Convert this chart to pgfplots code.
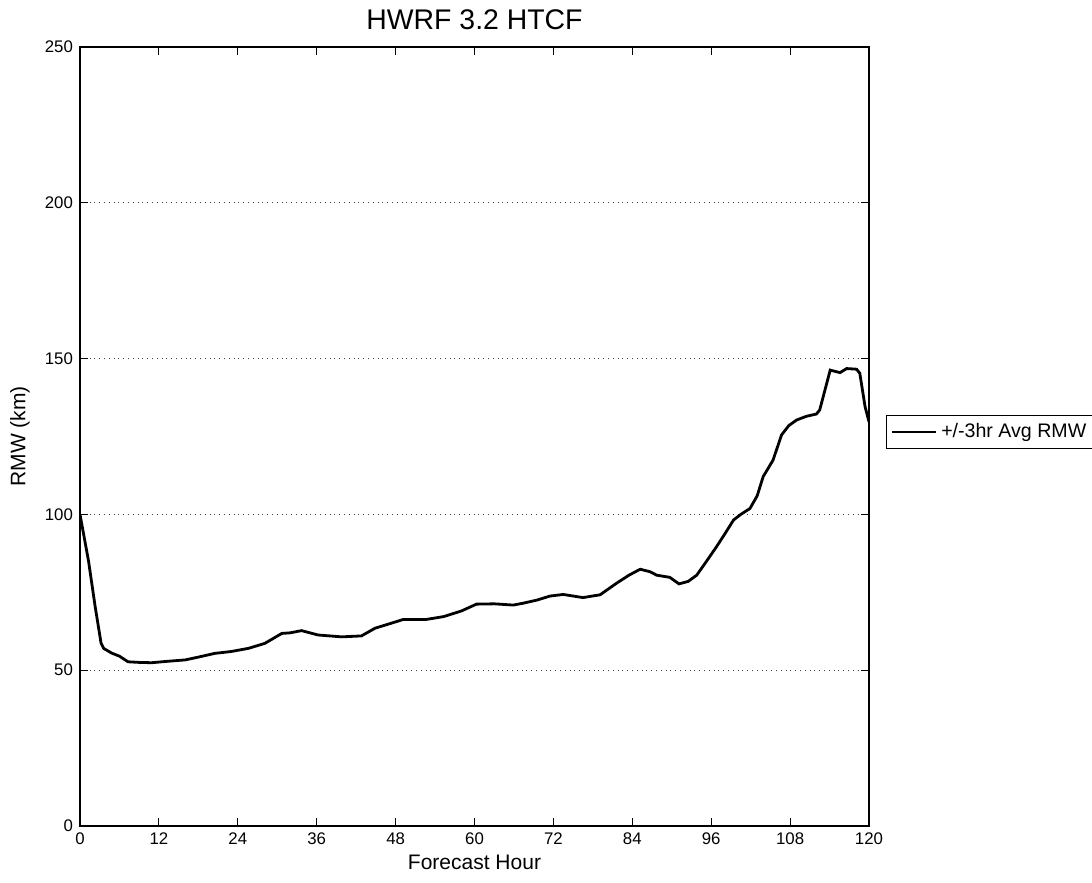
\documentclass[border=0pt]{standalone}
\usepackage{pgfplots}
\pgfplotsset{compat=1.18}
\usepackage{fontspec}
\setmainfont{Liberation Sans}
\begin{document}
\begin{tikzpicture}
\begin{axis}[
  at={(0,0)}, anchor=south west,
  scale only axis,
  width=394.5pt, height=389.5pt,
  xmin=0, xmax=120, ymin=0, ymax=250,
  xtick={0,12,...,120},
  ytick={0,50,...,250},
  tick align=inside,
  major tick length=4pt,
  axis line style={line width=0.6pt},
  tick style={black, line width=0.5pt},
  ymajorgrids,
  major grid style={dotted, black!75, line width=0.5pt},
  /pgf/number format/assume math mode=true,
  ticklabel style={font=\fontsize{8.4}{10}\selectfont},
  xticklabel style={yshift=0pt},
  title={HWRF 3.2 HTCF},
  title style={at={(axis description cs:0.5,1)}, anchor=center, yshift=7.5pt, font=\fontsize{14.2}{16}\selectfont},
  xlabel={Forecast Hour},
  xlabel style={at={(axis description cs:0.5,0)}, anchor=center, yshift=-18pt, font=\fontsize{10.5}{12}\selectfont},
  ylabel={RMW (km)},
  ylabel style={at={(axis description cs:0,0.5)}, anchor=center, yshift=30pt, font=\fontsize{10.5}{12}\selectfont},
  legend style={at={(axis description cs:1.0215,0.5276)}, anchor=north west, draw=black, line width=0.5pt, font=\fontsize{9.8}{11}\selectfont, inner sep=2pt},
  legend cell align=left,
  legend image code/.code={\draw[#1] (0pt,0pt) -- (22pt,0pt);},
]
\addplot[black, line width=1.4pt] coordinates {
(0,100) (1.3,85) (2.3,70.5) (3.2,58.7) (3.6,57) (4.8,55.5) (6,54.5) (7.3,52.7)
(9,52.5) (10.9,52.4) (13,52.8) (16,53.3) (18,54.2) (20.5,55.4) (23,56)
(25.6,57) (28.1,58.6) (30.7,61.8) (32,62) (33.7,62.7) (36.2,61.3) (39.8,60.7)
(42.8,61.0) (44.9,63.5) (46,64.2) (49.2,66.3) (52.7,66.3) (55.3,67.2) (58,69)
(60.3,71.2) (63,71.3) (65.9,70.9) (67.4,71.5) (69.5,72.5) (71.5,73.8) (73.5,74.3)
(76.5,73.3) (79.1,74.2) (81.6,77.9) (83.5,80.5) (85.2,82.4) (86.7,81.6) (87.7,80.5)
(89.7,79.8) (91.1,77.7) (92.5,78.5) (93.8,80.5) (95.3,85) (96.8,89.6) (98,93.5)
(99.4,98.2) (100.5,100) (101.9,101.9) (103,106) (103.9,112.1) (105.4,117.4)
(106.7,125.5) (107.8,128.5) (109,130.3) (110.5,131.5) (112,132.2) (112.5,133.5)
(114.1,146.3) (115.6,145.5) (116.6,146.8) (118.1,146.6) (118.6,145.3) (119.4,134.6) (120,129.7)
};
\addlegendentry{+/-3hr Avg RMW}
\end{axis}
\pgfresetboundingbox
\path[use as bounding box] (-40pt,-28.5pt) rectangle (506pt,413pt);
\end{tikzpicture}
\end{document}
